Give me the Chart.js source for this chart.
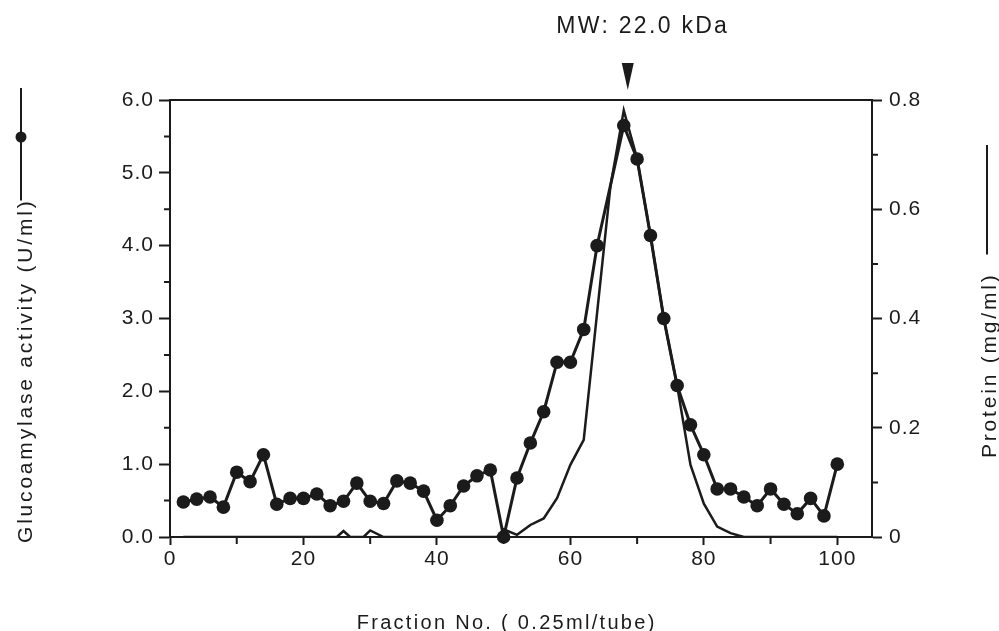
<!DOCTYPE html>
<html>
<head>
<meta charset="utf-8">
<script src="https://cdn.jsdelivr.net/npm/chart.js@4.4.1/dist/chart.umd.min.js"></script>
<style>
  html, body { margin: 0; padding: 0; background: #fff; }
</style>
</head>
<body>
<canvas id="chart" width="999" height="631"></canvas>
<script>
// Glucoamylase activity (U/ml), filled dots, every 2nd fraction (no point at 66)
const activityFractions = [2, 4, 6, 8, 10, 12, 14, 16, 18, 20, 22, 24, 26, 28, 30, 32, 34, 36, 38, 40,
  42, 44, 46, 48, 50, 52, 54, 56, 58, 60, 62, 64, 68, 70, 72, 74, 76, 78, 80, 82, 84, 86, 88, 90,
  92, 94, 96, 98, 100];
const activity = [0.48, 0.52, 0.55, 0.41, 0.89, 0.76, 1.13, 0.45, 0.53, 0.53, 0.59, 0.43, 0.49, 0.74,
  0.49, 0.46, 0.77, 0.74, 0.63, 0.23, 0.43, 0.70, 0.84, 0.92, 0.0, 0.81, 1.29, 1.72, 2.40, 2.40, 2.85,
  4.00, 5.65, 5.19, 4.14, 3.00, 2.08, 1.54, 1.13, 0.66, 0.66, 0.55, 0.43, 0.66, 0.45, 0.32, 0.53,
  0.29, 1.00];

// Protein (mg/ml), plain line
const proteinFractions = [2, 25, 26, 27, 29, 30, 32, 49, 50, 52, 54, 56, 58, 60, 62, 66, 68, 70, 72,
  74, 76, 78, 80, 82, 84, 86, 100];
const protein = [0, 0, 0.011, 0, 0, 0.012, 0, 0, 0.014, 0.004, 0.022, 0.034, 0.071, 0.132, 0.178,
  0.642, 0.781, 0.693, 0.552, 0.400, 0.277, 0.132, 0.061, 0.019, 0.007, 0, 0];

// axis ticks
const xTicks = [0, 20, 40, 60, 80, 100];
const xMinorTicks = [10, 30, 50, 70, 90];
const yTicks = [0, 1, 2, 3, 4, 5, 6];
const yTickLabels = ['0.0', '1.0', '2.0', '3.0', '4.0', '5.0', '6.0'];
const yMinorTicks = [0.5, 1.5, 2.5, 3.5, 4.5, 5.5];
const y1Ticks = [0, 0.2, 0.4, 0.6, 0.8];
const y1TickLabels = ['0', '0.2', '0.4', '0.6', '0.8'];
const y1MinorTicks = [0.1, 0.3, 0.5, 0.7];

const mwLabel = 'MW: 22.0 kDa';
const mwFraction = 68.6;
const leftTitle = 'Glucoamylase activity (U/ml)';
const rightTitle = 'Protein (mg/ml)';
const xTitle = 'Fraction No. ( 0.25ml/tube)';

const ink = '#1b1b1b';
const fontFamily = "'Liberation Sans', Arial, Helvetica, sans-serif";

Chart.defaults.font.family = fontFamily;
Chart.defaults.color = ink;

function spaced(ctx, px) {
  if ('letterSpacing' in ctx) ctx.letterSpacing = px + 'px';
}

// frame, minor ticks, titles and the MW arrow
const decorations = {
  id: 'decorations',
  beforeDraw(chart) {
    spaced(chart.ctx, 1);
  },
  afterDraw(chart) {
    const { ctx, chartArea: a, scales } = chart;
    const { x, y, y1 } = scales;
    ctx.save();
    ctx.strokeStyle = ink;
    ctx.fillStyle = ink;
    ctx.lineWidth = 2;

    // top edge of the frame
    ctx.beginPath();
    ctx.moveTo(a.left, a.top);
    ctx.lineTo(a.right + 1, a.top);
    ctx.stroke();

    // minor ticks
    ctx.beginPath();
    xMinorTicks.forEach(v => {
      const px = x.getPixelForValue(v);
      ctx.moveTo(px, a.bottom);
      ctx.lineTo(px, a.bottom + 7);
    });
    yMinorTicks.forEach(v => {
      const py = y.getPixelForValue(v);
      ctx.moveTo(a.left, py);
      ctx.lineTo(a.left - 6, py);
    });
    y1MinorTicks.forEach(v => {
      const py = y1.getPixelForValue(v);
      ctx.moveTo(a.right, py);
      ctx.lineTo(a.right + 6, py);
    });
    ctx.stroke();

    // MW marker
    const ax = x.getPixelForValue(mwFraction);
    ctx.beginPath();
    ctx.moveTo(ax - 6, 63);
    ctx.lineTo(ax + 6, 63);
    ctx.lineTo(ax, 90);
    ctx.closePath();
    ctx.fill();
    ctx.font = '23px ' + fontFamily;
    spaced(ctx, 2.3);
    ctx.textAlign = 'center';
    ctx.textBaseline = 'alphabetic';
    ctx.fillText(mwLabel, ax + 15, 33);

    // x title
    ctx.font = '20px ' + fontFamily;
    spaced(ctx, 2.3);
    ctx.fillText(xTitle, x.getPixelForValue(50) + 3, 629);

    // left title with legend line and dot
    ctx.font = '21px ' + fontFamily;
    spaced(ctx, 2.8);
    ctx.save();
    ctx.translate(32, 543);
    ctx.rotate(-Math.PI / 2);
    ctx.textAlign = 'left';
    ctx.fillText(leftTitle, 0, 0);
    const lw = ctx.measureText(leftTitle).width;
    ctx.restore();
    ctx.beginPath();
    ctx.moveTo(21, 543 - lw + 2);
    ctx.lineTo(21, 88);
    ctx.stroke();
    ctx.beginPath();
    ctx.arc(21, 137, 5.5, 0, Math.PI * 2);
    ctx.fill();

    // right title with legend line
    ctx.save();
    ctx.translate(996, 458);
    ctx.rotate(-Math.PI / 2);
    ctx.textAlign = 'left';
    ctx.fillText(rightTitle, 0, 0);
    const rw = ctx.measureText(rightTitle).width;
    ctx.restore();
    ctx.beginPath();
    ctx.moveTo(987, 458 - rw - 18);
    ctx.lineTo(987, 145);
    ctx.stroke();

    ctx.restore();
  }
};

const tickFont = { size: 21 };
const axisGrid = (len) => ({
  display: true,
  drawOnChartArea: false,
  drawTicks: true,
  tickLength: len,
  tickColor: ink,
  tickWidth: 2
});
const axisBorder = { display: true, color: ink, width: 2 };

new Chart(document.getElementById('chart'), {
  type: 'line',
  data: {
    datasets: [
      {
        label: 'Protein',
        data: proteinFractions.map((f, i) => ({ x: f, y: protein[i] })),
        yAxisID: 'y1',
        borderColor: ink,
        borderWidth: 2.5,
        pointRadius: 0,
        tension: 0,
        fill: false
      },
      {
        label: 'Glucoamylase activity',
        data: activityFractions.map((f, i) => ({ x: f, y: activity[i] })),
        yAxisID: 'y',
        borderColor: ink,
        backgroundColor: ink,
        borderWidth: 3,
        pointRadius: 6.8,
        pointBackgroundColor: ink,
        pointBorderWidth: 0,
        tension: 0,
        fill: false,
        clip: false
      }
    ]
  },
  options: {
    responsive: false,
    animation: false,
    events: [],
    layout: { padding: { top: 100, left: 0, right: 0, bottom: 0 } },
    plugins: {
      legend: { display: false },
      tooltip: { enabled: false }
    },
    scales: {
      x: {
        type: 'linear',
        min: 0,
        max: 105.2,
        afterBuildTicks: s => { s.ticks = xTicks.map(v => ({ value: v })); },
        afterFit: s => { s.height = 94; },
        ticks: { font: tickFont, color: ink, padding: 2, autoSkip: false, maxRotation: 0 },
        grid: axisGrid(8),
        border: axisBorder
      },
      y: {
        type: 'linear',
        position: 'left',
        min: 0,
        max: 6,
        afterBuildTicks: s => { s.ticks = yTicks.map(v => ({ value: v })); },
        afterFit: s => { s.width = 170; },
        ticks: {
          font: tickFont, color: ink, padding: 5, autoSkip: false,
          callback: v => yTickLabels[yTicks.indexOf(v)]
        },
        grid: axisGrid(11),
        border: axisBorder
      },
      y1: {
        type: 'linear',
        position: 'right',
        min: 0,
        max: 0.8,
        afterBuildTicks: s => { s.ticks = y1Ticks.map(v => ({ value: v })); },
        afterFit: s => { s.width = 127; },
        ticks: {
          font: tickFont, color: ink, padding: 7, autoSkip: false,
          callback: v => y1TickLabels[y1Ticks.indexOf(v)]
        },
        grid: axisGrid(10),
        border: axisBorder
      }
    }
  },
  plugins: [decorations]
});
</script>
</body>
</html>
